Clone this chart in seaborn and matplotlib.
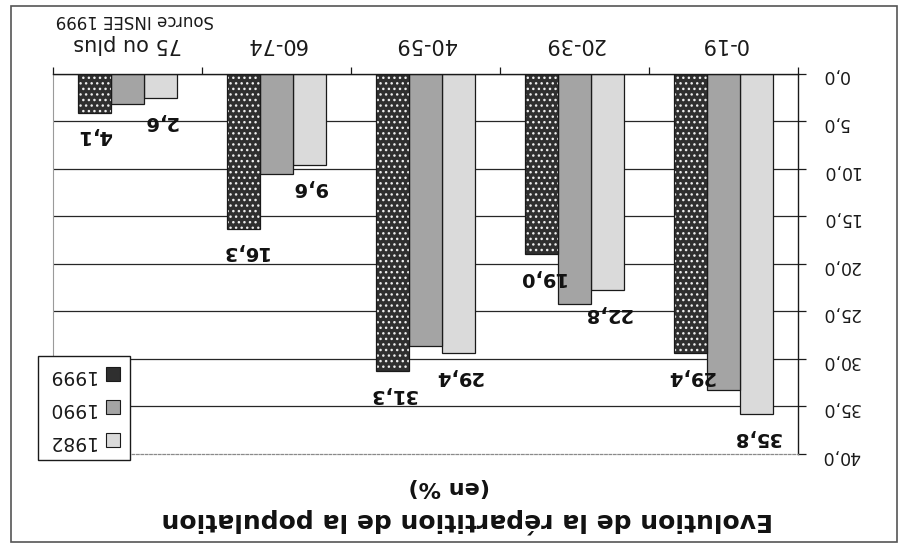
import numpy as np
import pandas as pd
import matplotlib
matplotlib.use("Agg")
import matplotlib.pyplot as plt
from matplotlib.patches import Rectangle, Patch
import seaborn as sns

# Age groups and share of the population (%) per census year
age_groups = ["0-19", "20-39", "40-59", "60-74", "75 ou plus"]
years = ["1982", "1990", "1999"]
share_1982 = [35.8, 22.8, 29.4, 9.6, 2.6]
share_1990 = [33.3, 24.2, 28.6, 10.6, 3.2]
share_1999 = [29.4, 19.0, 31.3, 16.3, 4.1]
labelled_years = ["1982", "1999"]
y_ticks = [0, 5, 10, 15, 20, 25, 30, 35, 40]
title_line = "Evolution de la répartition de la population"
subtitle_line = "(en %)"
source_note = "Source INSEE 1999"

series = {"1982": share_1982, "1990": share_1990, "1999": share_1999}
df = pd.DataFrame(
    [(age, year, val) for year in years for age, val in zip(age_groups, series[year])],
    columns=["age", "year", "share"],
)

sns.set_theme(style="white")
plt.rcParams["font.family"] = ["DejaVu Sans"]

W, H = 901, 545
fig = plt.figure(figsize=(W / 100, H / 100), dpi=100)
fig.patch.set_facecolor("white")


def fx(px):
    return px / W


def fy(py):
    return 1 - py / H


face = {"1982": "#dadada", "1990": "#a4a4a4", "1999": "#2f2f2f"}

ax = fig.add_axes([fx(53), fy(454), fx(798) - fx(53), fy(73.5) - fy(454)])
sns.barplot(
    data=df, x="age", y="share", hue="year",
    order=age_groups, hue_order=years, palette=face,
    width=0.667, gap=0, saturation=1, errorbar=None,
    edgecolor="#1a1a1a", linewidth=0.9, legend=False, ax=ax,
)

# dotted texture on the darkest series, outline redrawn on top
for p in ax.containers[years.index("1999")].patches:
    p.set_hatch("...")
    p.set_edgecolor("#eeeeee")
    p.set_linewidth(0)
    ax.add_patch(Rectangle((p.get_x(), p.get_y()), p.get_width(), p.get_height(),
                           fill=False, edgecolor="#1a1a1a", linewidth=0.9, zorder=p.get_zorder() + 0.1))

# upside-down orientation of the whole chart
ax.set_xlim(len(age_groups) - 0.5, -0.5)
ax.set_ylim(max(y_ticks), 0)

ax.set_xlabel("")
ax.set_ylabel("")
ax.yaxis.tick_right()
ax.set_yticks(y_ticks)
ax.set_yticklabels([f"{v:.1f}".replace(".", ",") for v in y_ticks])
ax.tick_params(axis="y", which="major", direction="out", length=6, width=0.9,
               pad=11, labelsize=12.5, labelrotation=180, color="#1a1a1a",
               labelcolor="#1a1a1a", right=True, left=False)

ax.xaxis.tick_top()
ax.set_xticks(range(len(age_groups)))
ax.set_xticklabels(age_groups)
ax.tick_params(axis="x", which="major", length=0, pad=14, labelsize=15,
               labelrotation=180, labelcolor="#1a1a1a", top=True, bottom=False)
ax.set_xticks(np.arange(-0.5, len(age_groups)), minor=True)
ax.tick_params(axis="x", which="minor", direction="out", length=5, width=0.9,
               color="#1a1a1a", top=True, bottom=False)

ax.set_axisbelow(True)
ax.yaxis.grid(True, color="#262626", linewidth=0.9)
ax.xaxis.grid(False)
ax.get_ygridlines()[-1].set_visible(False)

for side in ("top", "right"):
    ax.spines[side].set_color("#1a1a1a")
    ax.spines[side].set_linewidth(1.0)
ax.spines["bottom"].set_color("#8a8a8a")
ax.spines["bottom"].set_linewidth(0.9)
ax.spines["bottom"].set_linestyle((0, (2, 1.5)))
ax.spines["left"].set_color("#9a9a9a")
ax.spines["left"].set_linewidth(0.8)

# value labels for the first and last census
for year in labelled_years:
    cont = ax.containers[years.index(year)]
    for p, v in zip(cont.patches, series[year]):
        ax.annotate(f"{v:.1f}".replace(".", ","),
                    xy=(p.get_x() + p.get_width() / 2, v),
                    xytext=(0, -23), textcoords="offset pixels",
                    ha="center", va="center", rotation=180,
                    fontsize=14, fontweight="bold", color="#111111")

# legend
handles = [Patch(facecolor=face[y], edgecolor="#1a1a1a", linewidth=0.8) for y in years]
leg = fig.legend(handles[::-1], years[::-1], loc="lower left",
                 bbox_to_anchor=(fx(38), fy(460)), bbox_transform=fig.transFigure,
                 markerfirst=False, frameon=True, fancybox=False, framealpha=1,
                 edgecolor="#1a1a1a", borderaxespad=0, handlelength=0.75,
                 handleheight=0.75, handletextpad=0.6, labelspacing=0.75,
                 borderpad=0.5, fontsize=13.5)
leg.get_frame().set_linewidth(1.0)
for t in leg.get_texts():
    t.set_rotation(180)
    t.set_color("#1a1a1a")

# titles and source
fig.text(fx(467), fy(521), title_line, rotation=180, ha="center", va="center",
         fontsize=18, fontweight="bold", color="#111111")
fig.text(fx(449), fy(487), subtitle_line, rotation=180, ha="center", va="center",
         fontsize=16, fontweight="bold", color="#111111")
fig.text(fx(135), fy(20), source_note, rotation=180, ha="center", va="center",
         fontsize=12, color="#1a1a1a")

# outer chart frame
fig.add_artist(Rectangle((fx(11), fy(542)), fx(897) - fx(11), fy(6) - fy(542),
                         transform=fig.transFigure, fill=False,
                         edgecolor="#555555", linewidth=1.2))

fig.savefig("out.png", dpi=100)
